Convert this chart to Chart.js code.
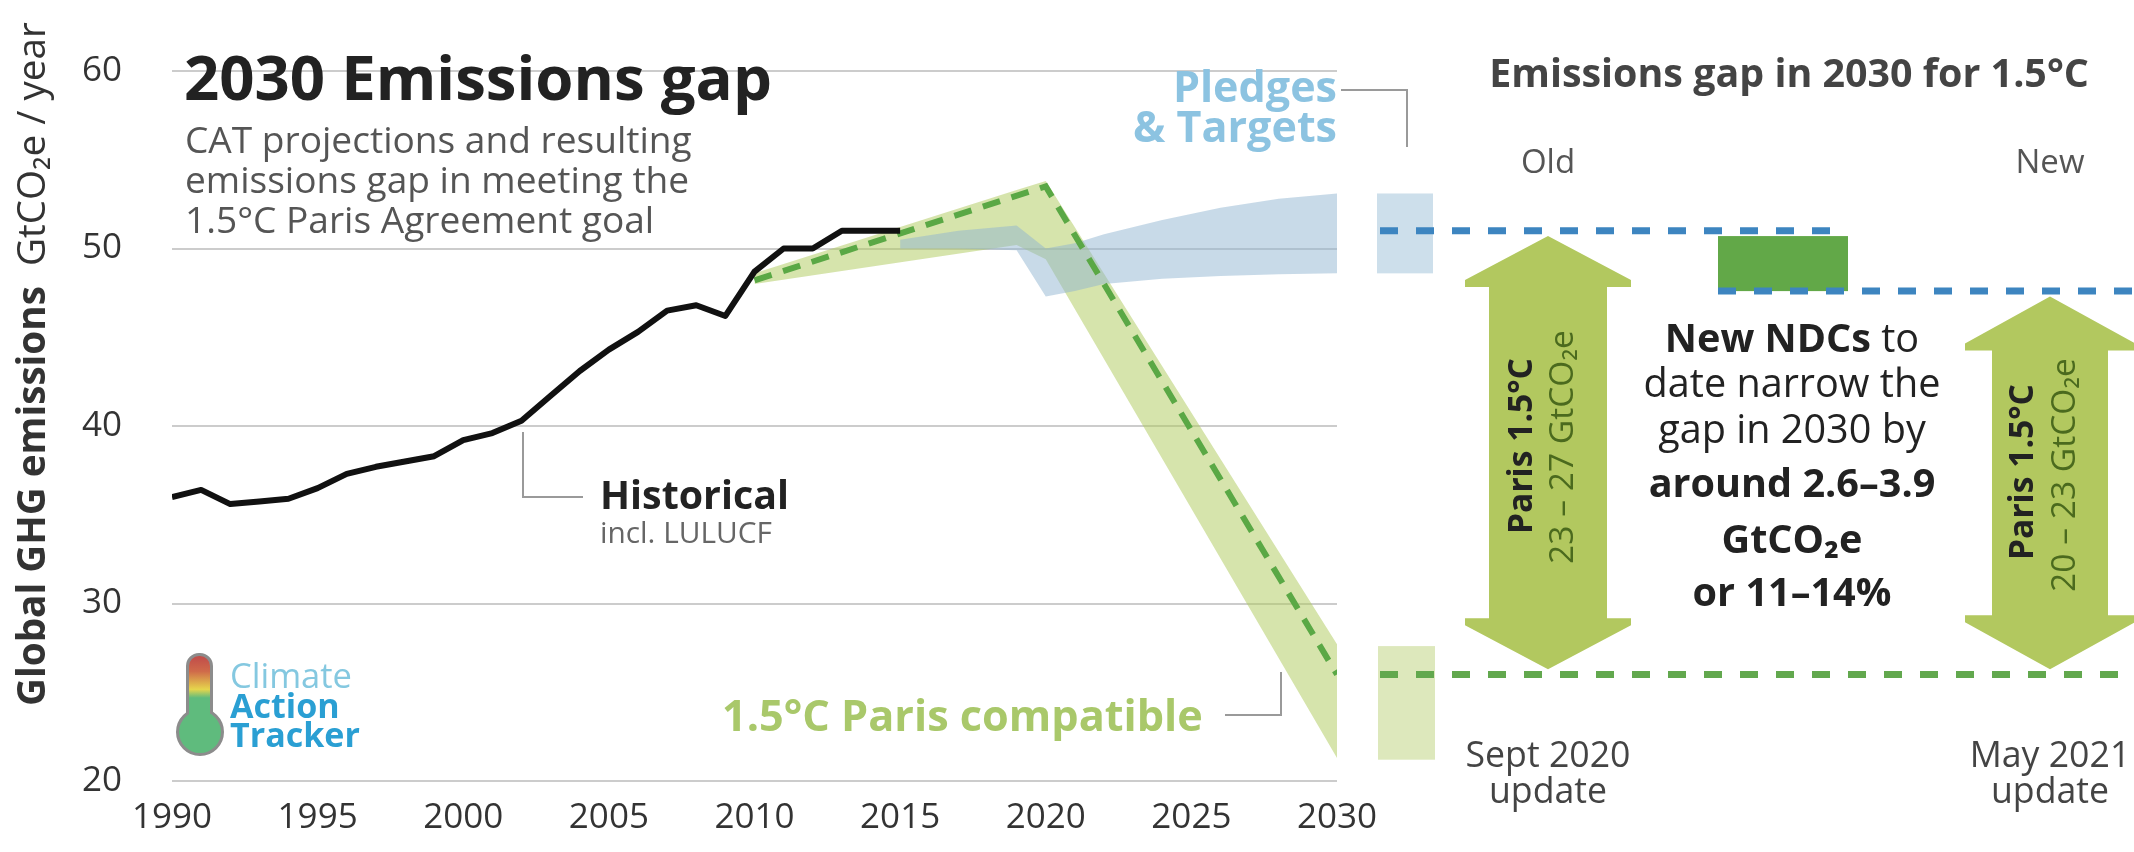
<!DOCTYPE html>
<html>
<head>
<meta charset="utf-8">
<title>2030 Emissions gap</title>
<script src="https://cdn.jsdelivr.net/npm/chart.js@4.4.1/dist/chart.umd.min.js"></script>
<style>
  html, body { margin: 0; padding: 0; background: #fff; }
  #wrap { width: 2134px; height: 852px; position: relative; }
</style>
</head>
<body>
<div id="wrap"><canvas id="gap-chart"></canvas></div>
<script>
// Global GHG emissions, GtCO2e / year
const histYears = [1990, 1991, 1992, 1993, 1994, 1995, 1996, 1997, 1998, 1999, 2000, 2001, 2002,
  2003, 2004, 2005, 2006, 2007, 2008, 2009, 2010, 2011, 2012, 2013, 2014, 2015];
const histValues = [36.0, 36.4, 35.6, 35.75, 35.9, 36.5, 37.3, 37.7, 38.0, 38.3, 39.2, 39.6, 40.3,
  41.7, 43.1, 44.3, 45.3, 46.5, 46.8, 46.2, 48.7, 50.0, 50.0, 51.0, 51.0, 51.0];

// 1.5°C Paris compatible range + median pathway
const parisYears = [2010, 2019, 2020, 2030];
const parisUpper = [48.6, 53.3, 53.8, 27.7];
const parisLower = [48.0, 50.2, 49.4, 21.3];
const pathwayYears = [2010, 2020, 2030];
const pathwayValues = [48.2, 53.5, 26.0];

// Pledges & Targets range
const pledgeYears = [2015, 2017, 2019, 2020, 2021, 2022, 2024, 2026, 2028, 2030];
const pledgeUpper = [50.5, 51.0, 51.3, 50.0, 50.3, 50.8, 51.6, 52.3, 52.8, 53.1];
const pledgeLower = [50.0, 50.0, 49.9, 47.3, 47.6, 48.0, 48.3, 48.45, 48.55, 48.6];

// 2030 gap panel
const pledgeBox2030 = [48.6, 53.1];
const parisBox2030 = [21.2, 27.6];
const oldPledgeLevel = 51.0;   // Sept 2020 update
const newPledgeLevel = 47.6;   // May 2021 update
const parisLevel2030 = 26.0;
const narrowingRange = [47.6, 50.7];
const oldArrowRange = [26.3, 50.7];
const newArrowRange = [26.3, 47.3];

const yTicks = [20, 30, 40, 50, 60];
const xTicks = [1990, 1995, 2000, 2005, 2010, 2015, 2020, 2025, 2030];

const FONT = "'Open Sans', 'Noto Sans', sans-serif";

const pts = (xs, ys) => xs.map((x, i) => ({ x, y: ys[i] }));

function fitSize(ctx, parts, target) {
  let w = 0;
  parts.forEach(([t, weight]) => {
    ctx.font = `${weight} 100px ${FONT}`;
    w += ctx.measureText(t).width;
  });
  return 100 * target / w;
}

function drawRuns(ctx, parts, x, y, size, align = 'left') {
  const widths = parts.map(([t, weight]) => {
    ctx.font = `${weight} ${size}px ${FONT}`;
    return ctx.measureText(t).width;
  });
  const total = widths.reduce((a, b) => a + b, 0);
  let cx = align === 'center' ? x - total / 2 : align === 'right' ? x - total : x;
  ctx.textAlign = 'left';
  parts.forEach(([t, weight, color], i) => {
    ctx.font = `${weight} ${size}px ${FONT}`;
    ctx.fillStyle = color;
    ctx.fillText(t, cx, y);
    cx += widths[i];
  });
}

function leader(ctx, points) {
  ctx.save();
  ctx.strokeStyle = '#9a9a9a';
  ctx.lineWidth = 2;
  ctx.beginPath();
  points.forEach(([px, py], i) => (i ? ctx.lineTo(px, py) : ctx.moveTo(px, py)));
  ctx.stroke();
  ctx.restore();
}

function dashed(ctx, x0, x1, py, color) {
  ctx.save();
  ctx.strokeStyle = color;
  ctx.lineWidth = 7;
  ctx.setLineDash([18, 18]);
  ctx.beginPath();
  ctx.moveTo(x0, py);
  ctx.lineTo(x1, py);
  ctx.stroke();
  ctx.restore();
}

function doubleArrow(ctx, cx, yTop, yBot, headH, headHW, shaftHW, color) {
  ctx.save();
  ctx.fillStyle = color;
  ctx.beginPath();
  ctx.moveTo(cx, yTop);
  ctx.lineTo(cx + headHW, yTop + headH - 7);
  ctx.lineTo(cx + headHW, yTop + headH);
  ctx.lineTo(cx + shaftHW, yTop + headH);
  ctx.lineTo(cx + shaftHW, yBot - headH);
  ctx.lineTo(cx + headHW, yBot - headH);
  ctx.lineTo(cx + headHW, yBot - headH + 7);
  ctx.lineTo(cx, yBot);
  ctx.lineTo(cx - headHW, yBot - headH + 7);
  ctx.lineTo(cx - headHW, yBot - headH);
  ctx.lineTo(cx - shaftHW, yBot - headH);
  ctx.lineTo(cx - shaftHW, yTop + headH);
  ctx.lineTo(cx - headHW, yTop + headH);
  ctx.lineTo(cx - headHW, yTop + headH - 7);
  ctx.closePath();
  ctx.fill();
  ctx.restore();
}

function vertText(ctx, parts, x, y, size) {
  ctx.save();
  ctx.translate(x, y);
  ctx.rotate(-Math.PI / 2);
  ctx.textBaseline = 'middle';
  drawRuns(ctx, parts, 0, 0, size, 'center');
  ctx.restore();
}

function drawLogo(ctx) {
  ctx.save();
  const tube = () => { ctx.beginPath(); ctx.roundRect(189, 656, 21, 70, 10); };
  const bulb = () => { ctx.beginPath(); ctx.arc(200, 732, 21, 0, Math.PI * 2); };
  ctx.strokeStyle = '#8c8c8c';
  ctx.lineWidth = 6;
  tube(); ctx.stroke();
  bulb(); ctx.stroke();
  const g = ctx.createLinearGradient(0, 658, 0, 753);
  g.addColorStop(0, '#c24f4a');
  g.addColorStop(0.14, '#cf6a4a');
  g.addColorStop(0.33, '#e6d54c');
  g.addColorStop(0.42, '#5fbb7d');
  g.addColorStop(1, '#5fbb7d');
  ctx.fillStyle = g;
  tube(); ctx.fill();
  bulb(); ctx.fill();
  ctx.textBaseline = 'alphabetic';
  const s1 = fitSize(ctx, [['Climate', 'normal']], 122);
  drawRuns(ctx, [['Climate', 'normal', '#84c8e0']], 230, 688, s1);
  const s2 = fitSize(ctx, [['Tracker', 'bold']], 130);
  drawRuns(ctx, [['Action', 'bold', '#2a9fd3']], 230, 718, s2);
  drawRuns(ctx, [['Tracker', 'bold', '#2a9fd3']], 230, 747, s2);
  ctx.restore();
}

const gapPanel = {
  id: 'gapPanel',
  beforeDatasetsDraw(chart) {
    // white box behind the subtitle hides the 50 gridline
    const { ctx } = chart;
    ctx.save();
    ctx.fillStyle = '#ffffff';
    ctx.fillRect(179, 112, 520, 132);
    ctx.restore();
  },
  afterDraw(chart) {
    const { ctx } = chart;
    const y = (v) => chart.scales.y.getPixelForValue(v);
    ctx.save();
    ctx.textBaseline = 'alphabetic';

    // y axis title
    ctx.save();
    ctx.translate(45, 706);
    ctx.rotate(-Math.PI / 2);
    const yTitle = [['Global GHG emissions', 'bold', '#333333'], ['  GtCO₂e / year', 'normal', '#333333']];
    drawRuns(ctx, yTitle, 0, 0, fitSize(ctx, yTitle, 684));
    ctx.restore();

    // title + subtitle
    const tSize = fitSize(ctx, [['2030 Emissions gap', 'bold']], 588);
    drawRuns(ctx, [['2030 Emissions gap', 'bold', '#222222']], 184, 100, tSize);
    const sSize = fitSize(ctx, [['CAT projections and resulting', 'normal']], 507);
    ['CAT projections and resulting', 'emissions gap in meeting the', '1.5°C Paris Agreement goal']
      .forEach((line, i) => drawRuns(ctx, [[line, 'normal', '#555555']], 185, 153 + i * 40, sSize));

    // Historical label
    leader(ctx, [[523, 432], [523, 497], [583, 497]]);
    drawRuns(ctx, [['Historical', 'bold', '#222222']], 600, 509, fitSize(ctx, [['Historical', 'bold']], 189));
    drawRuns(ctx, [['incl. LULUCF', 'normal', '#666666']], 600, 543, fitSize(ctx, [['incl. LULUCF', 'normal']], 172));

    // 1.5°C label
    leader(ctx, [[1225, 715], [1281, 715], [1281, 672]]);
    drawRuns(ctx, [['1.5°C Paris compatible', 'bold', '#a9c86a']], 722, 731,
      fitSize(ctx, [['1.5°C Paris compatible', 'bold']], 481));

    // Pledges label
    leader(ctx, [[1341, 90], [1407, 90], [1407, 147]]);
    const pSize = fitSize(ctx, [['& Targets', 'bold']], 204);
    drawRuns(ctx, [['Pledges', 'bold', '#8cc3e1']], 1337, 102, pSize, 'right');
    drawRuns(ctx, [['& Targets', 'bold', '#8cc3e1']], 1337, 142, pSize, 'right');

    drawLogo(ctx);

    // ---- right panel ----
    drawRuns(ctx, [['Emissions gap in 2030 for 1.5°C', 'bold', '#444444']], 1789, 87,
      fitSize(ctx, [['Emissions gap in 2030 for 1.5°C', 'bold']], 600), 'center');
    drawRuns(ctx, [['Old', 'normal', '#555555']], 1548, 173, 33, 'center');
    drawRuns(ctx, [['New', 'normal', '#555555']], 2050, 173, 33, 'center');

    ctx.fillStyle = '#cddfeb';
    ctx.fillRect(1377, y(pledgeBox2030[1]), 56, y(pledgeBox2030[0]) - y(pledgeBox2030[1]));
    ctx.fillStyle = '#dde8bc';
    ctx.fillRect(1378, y(parisBox2030[1]), 57, y(parisBox2030[0]) - y(parisBox2030[1]));
    ctx.fillStyle = '#62a848';
    ctx.fillRect(1718, y(narrowingRange[1]), 130, y(narrowingRange[0]) - y(narrowingRange[1]));

    dashed(ctx, 1380, 1846, y(oldPledgeLevel), '#3d85c0');
    dashed(ctx, 1718, 2134, y(newPledgeLevel), '#3d85c0');
    dashed(ctx, 1380, 2134, y(parisLevel2030), '#62a84e');

    doubleArrow(ctx, 1548, y(oldArrowRange[1]), y(oldArrowRange[0]), 51, 83, 59, '#b2c85f');
    doubleArrow(ctx, 2050, y(newArrowRange[1]), y(newArrowRange[0]), 54, 85, 58, '#b2c85f');

    const aSize = fitSize(ctx, [['Paris 1.5°C', 'bold']], 176);
    vertText(ctx, [['Paris 1.5°C', 'bold', '#222222']], 1522, 446, aSize);
    vertText(ctx, [['23 – 27 GtCO₂e', 'normal', '#4b6a1e']], 1563, 447, aSize);
    vertText(ctx, [['Paris 1.5°C', 'bold', '#222222']], 2023, 472, aSize);
    vertText(ctx, [['20 – 23 GtCO₂e', 'normal', '#4b6a1e']], 2065, 475, aSize);

    const mSize = fitSize(ctx, [['date narrow the', 'normal']], 297);
    const mid = [
      [[['New NDCs', 'bold', '#222222'], [' to', 'normal', '#222222']], 352],
      [[['date narrow the', 'normal', '#222222']], 397],
      [[['gap in 2030 by', 'normal', '#222222']], 443],
      [[['around 2.6–3.9', 'bold', '#222222']], 497],
      [[['GtCO₂e', 'bold', '#222222']], 553],
      [[['or 11–14%', 'bold', '#222222']], 606],
    ];
    mid.forEach(([parts, by]) => drawRuns(ctx, parts, 1792, by, mSize, 'center'));

    const uSize = fitSize(ctx, [['Sept 2020', 'normal']], 165);
    drawRuns(ctx, [['Sept 2020', 'normal', '#444444']], 1548, 767, uSize, 'center');
    drawRuns(ctx, [['update', 'normal', '#444444']], 1548, 803, uSize, 'center');
    drawRuns(ctx, [['May 2021', 'normal', '#444444']], 2050, 767, uSize, 'center');
    drawRuns(ctx, [['update', 'normal', '#444444']], 2050, 803, uSize, 'center');

    ctx.restore();
  },
};

new Chart(document.getElementById('gap-chart'), {
  type: 'line',
  data: {
    datasets: [
      {
        label: 'Historical incl. LULUCF',
        data: pts(histYears, histValues),
        borderColor: '#111111',
        borderWidth: 6,
        borderJoinStyle: 'round',
        pointRadius: 0,
        order: 0,
      },
      {
        label: '1.5°C pathway',
        data: pts(pathwayYears, pathwayValues),
        borderColor: '#5aa845',
        borderWidth: 6,
        borderDash: [18, 12],
        pointRadius: 0,
        order: 1,
      },
      {
        label: 'Pledges low',
        data: pts(pledgeYears, pledgeLower),
        borderWidth: 0,
        pointRadius: 0,
        fill: false,
        order: 2,
      },
      {
        label: 'Pledges & Targets',
        data: pts(pledgeYears, pledgeUpper),
        borderWidth: 0,
        pointRadius: 0,
        fill: '-1',
        backgroundColor: 'rgba(145,181,209,0.5)',
        order: 2,
      },
      {
        label: 'Paris low',
        data: pts(parisYears, parisLower),
        borderWidth: 0,
        pointRadius: 0,
        fill: false,
        order: 3,
      },
      {
        label: '1.5°C Paris compatible',
        data: pts(parisYears, parisUpper),
        borderWidth: 0,
        pointRadius: 0,
        fill: '-1',
        backgroundColor: 'rgba(173,201,89,0.5)',
        order: 3,
      },
    ],
  },
  options: {
    responsive: true,
    maintainAspectRatio: false,
    animation: false,
    layout: { padding: { top: 24, right: 797, bottom: 0, left: 0 } },
    plugins: { legend: { display: false }, tooltip: { enabled: false } },
    scales: {
      x: {
        type: 'linear',
        min: xTicks[0],
        max: xTicks[xTicks.length - 1],
        grid: { display: false },
        border: { display: false },
        afterBuildTicks: (s) => { s.ticks = xTicks.map((v) => ({ value: v })); },
        afterFit: (s) => { s.height = 51; },
        ticks: {
          autoSkip: false,
          maxRotation: 0,
          padding: 8,
          color: '#333333',
          font: { family: FONT, size: 35 },
          callback: (v) => String(v),
        },
      },
      y: {
        min: yTicks[0],
        max: yTicks[yTicks.length - 1],
        border: { display: false },
        grid: { color: '#cccccc', lineWidth: 2, drawTicks: false },
        afterBuildTicks: (s) => { s.ticks = yTicks.map((v) => ({ value: v })); },
        afterFit: (s) => { s.width = 172; },
        ticks: {
          padding: 50,
          color: '#333333',
          font: { family: FONT, size: 35 },
        },
      },
    },
  },
  plugins: [gapPanel],
});
</script>
</body>
</html>
